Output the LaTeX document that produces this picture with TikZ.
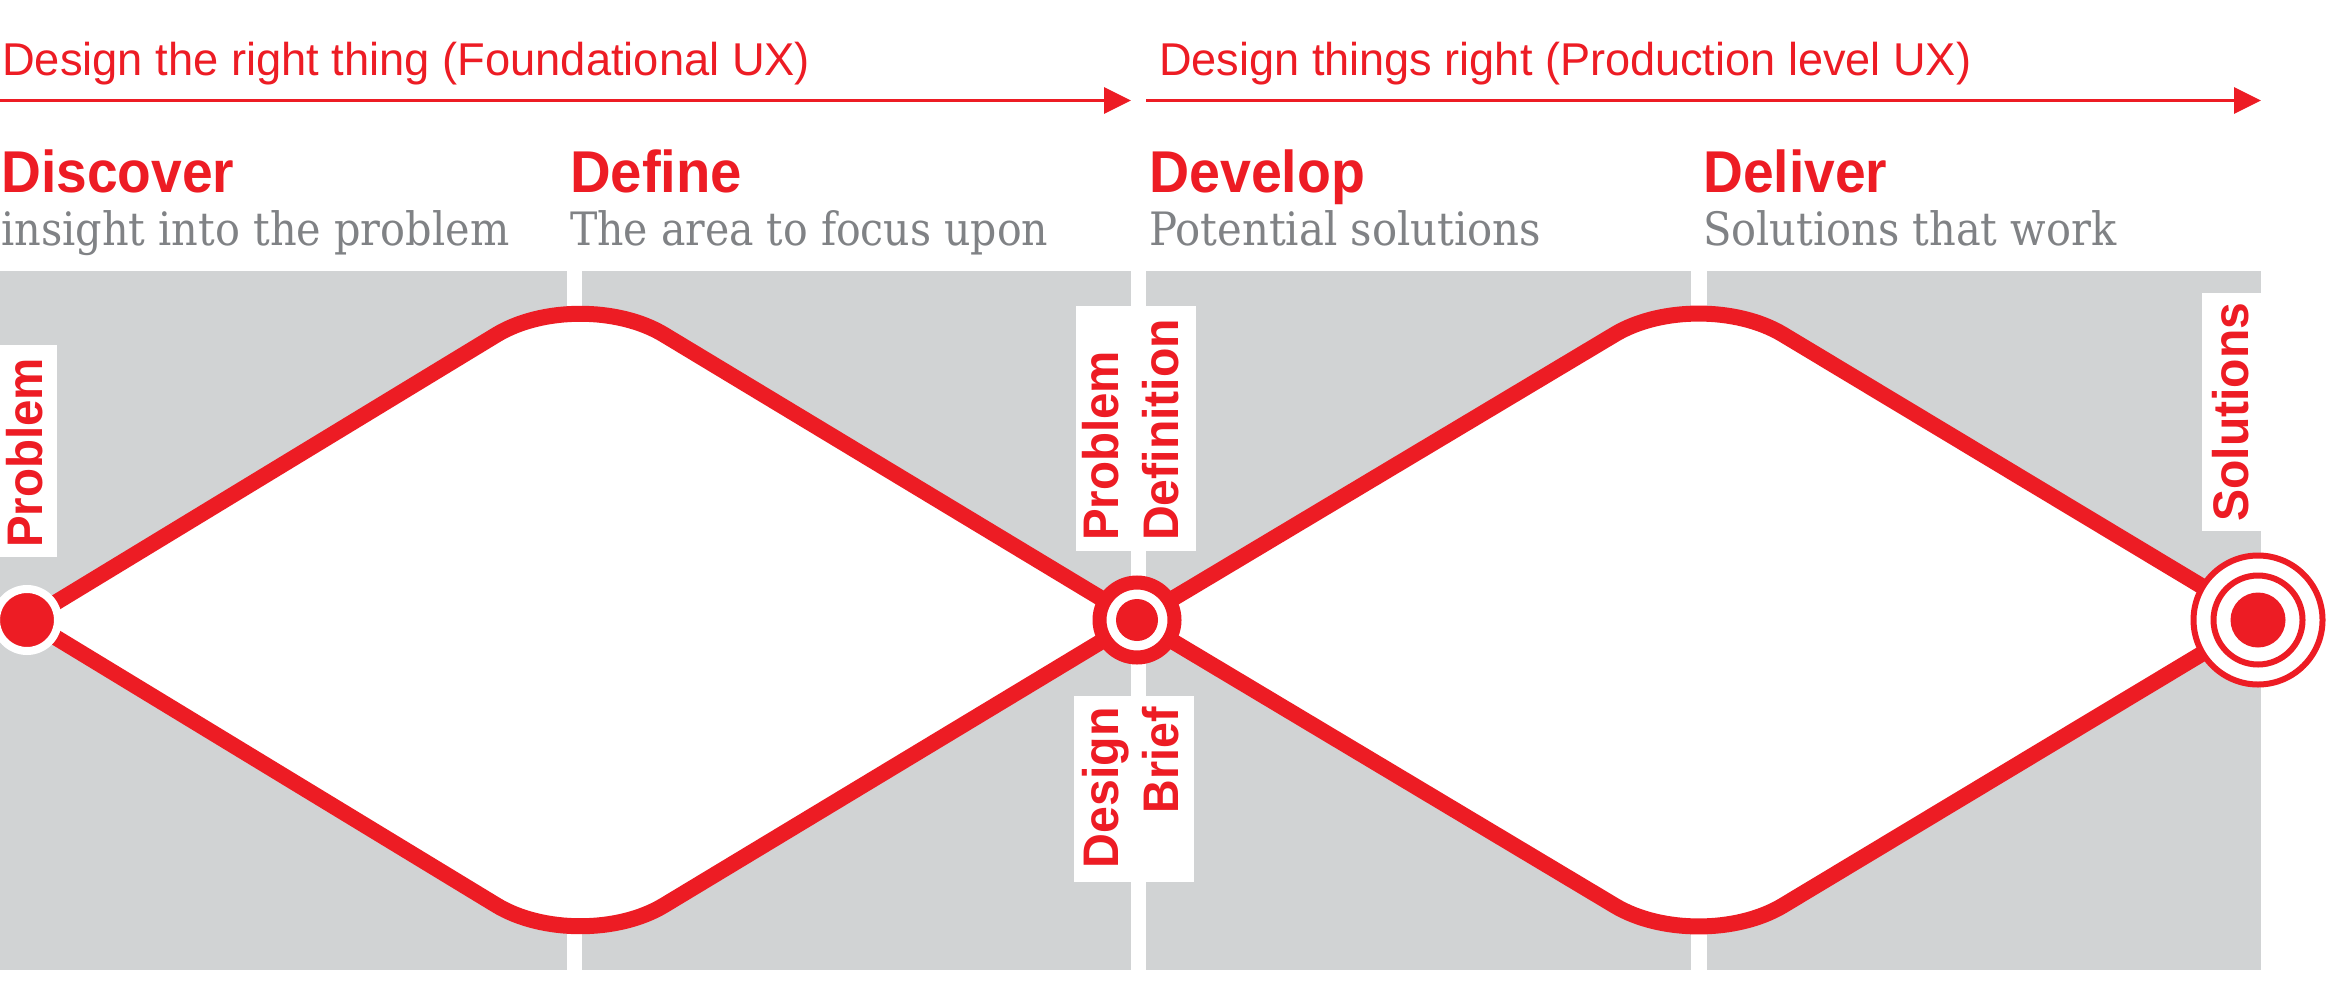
\documentclass[tikz,border=0pt]{standalone}
\usepackage{fontspec}
\setmainfont{Liberation Sans}
\newfontfamily\serifsub{DejaVu Serif Condensed}
\usetikzlibrary{arrows.meta,calc}
\definecolor{ddred}{HTML}{ED1C24}
\definecolor{panelgray}{HTML}{D1D3D4}
\definecolor{subgray}{HTML}{808285}
% set a text at a given width by scaling it horizontally
\newdimen\fitlen
\newcommand\fitto[2]{\settowidth\fitlen{#2}\pgfmathsetmacro\fitratio{#1/\fitlen}\scalebox{\fitratio}[1]{#2}}
\tikzset{
  hdtext/.style={font=\fontsize{46}{50}\selectfont, text=ddred, inner sep=0, anchor=base west},
  ttltext/.style={font=\fontsize{59}{64}\selectfont\bfseries, text=ddred, inner sep=0, anchor=base west},
  subtext/.style={font=\serifsub\fontsize{46}{50}\selectfont, text=subgray, inner sep=0, anchor=base west},
  labtext/.style={font=\fontsize{50}{55}\selectfont\bfseries, text=ddred, inner sep=0, rotate=90},
  labbox/.style={fill=white, draw=none, inner sep=0},
  panel/.style={fill=panelgray},
  flow/.style={draw=ddred, line width=16pt},
  phasearrow/.style={draw=ddred, line width=3.5pt, -{Triangle[length=27pt,width=26pt]}},
}
\begin{document}
\begin{tikzpicture}[x=1pt,y=-1pt]
\useasboundingbox (0,0) rectangle (2328,990);
\fill[white] (0,0) rectangle (2328,990);

% four phase panels
\fill[panel] (0,271) rectangle (567,970);
\fill[panel] (582,271) rectangle (1131,970);
\fill[panel] (1146,271) rectangle (1691,970);
\fill[panel] (1707,271) rectangle (2261,970);

% diamond vertices
\coordinate (p) at (27,620);
\coordinate (m) at (1137,620);
\coordinate (s) at (2258,620);
\coordinate (t1) at (580,284);
\coordinate (b1) at (580,956);
\coordinate (t2) at (1699,284);
\coordinate (b2) at (1699,956);

% rounded peaks: cut points and control points
\coordinate (t1l) at ($(t1)!98pt!(p)$);  \coordinate (t1lc) at ($(t1)!44pt!(p)$);
\coordinate (t1r) at ($(t1)!98pt!(m)$);  \coordinate (t1rc) at ($(t1)!44pt!(m)$);
\coordinate (b1l) at ($(b1)!98pt!(p)$);  \coordinate (b1lc) at ($(b1)!44pt!(p)$);
\coordinate (b1r) at ($(b1)!98pt!(m)$);  \coordinate (b1rc) at ($(b1)!44pt!(m)$);
\coordinate (t2l) at ($(t2)!98pt!(m)$);  \coordinate (t2lc) at ($(t2)!44pt!(m)$);
\coordinate (t2r) at ($(t2)!98pt!(s)$);  \coordinate (t2rc) at ($(t2)!44pt!(s)$);
\coordinate (b2l) at ($(b2)!98pt!(m)$);  \coordinate (b2lc) at ($(b2)!44pt!(m)$);
\coordinate (b2r) at ($(b2)!98pt!(s)$);  \coordinate (b2rc) at ($(b2)!44pt!(s)$);

% white diamond interiors
\fill[white] (p) -- (t1l) .. controls (t1lc) and (t1rc) .. (t1r) -- (m)
  -- (b1r) .. controls (b1rc) and (b1lc) .. (b1l) -- cycle;
\fill[white] (m) -- (t2l) .. controls (t2lc) and (t2rc) .. (t2r) -- (s)
  -- (b2r) .. controls (b2rc) and (b2lc) .. (b2l) -- cycle;

% diamond outlines
\draw[flow] (p) -- (t1l) .. controls (t1lc) and (t1rc) .. (t1r) -- (m);
\draw[flow] (p) -- (b1l) .. controls (b1lc) and (b1rc) .. (b1r) -- (m);
\draw[flow] (m) -- (t2l) .. controls (t2lc) and (t2rc) .. (t2r) -- (s);
\draw[flow] (m) -- (b2l) .. controls (b2lc) and (b2rc) .. (b2r) -- (s);

% milestone markers
\node[circle, fill=ddred, draw=white, line width=8pt, minimum size=62pt, inner sep=0] (pdot) at (p) {};
\node[circle, fill=white, draw=ddred, line width=14pt, minimum size=75pt, inner sep=0] (mring) at (m) {};
\node[circle, fill=ddred, minimum size=42pt, inner sep=0] (mcore) at (m) {};
\node[circle, fill=white, draw=ddred, line width=6pt, minimum size=129pt, inner sep=0] (souter) at (s) {};
\node[circle, draw=ddred, line width=6pt, minimum size=89pt, inner sep=0] (sring) at (s) {};
\node[circle, fill=ddred, minimum size=55pt, inner sep=0] (score) at (s) {};

% top phase arrows
\coordinate (a1s) at (0,100.5);
\coordinate (a1e) at (1131,100.5);
\coordinate (a2s) at (1146,100.5);
\coordinate (a2e) at (2261,100.5);
\draw[phasearrow] (a1s) -- (a1e);
\draw[phasearrow] (a2s) -- (a2e);

% headers
\node[hdtext] (hd1) at (2,75) {\fitto{808}{Design the right thing (Foundational UX)}};
\node[hdtext] (hd2) at (1159,75) {\fitto{812}{Design things right (Production level UX)}};

% phase titles
\node[ttltext] (discover) at (1,192) {\fitto{233}{Discover}};
\node[ttltext] (define) at (570,192) {\fitto{172}{Define}};
\node[ttltext] (develop) at (1149,192) {\fitto{216}{Develop}};
\node[ttltext] (deliver) at (1703,192) {\fitto{184}{Deliver}};

% phase descriptions
\node[subtext] (sub1) at (1,245) {\fitto{508}{insight into the problem}};
\node[subtext] (sub2) at (570,245) {\fitto{478}{The area to focus upon}};
\node[subtext] (sub3) at (1149,245) {\fitto{392}{Potential solutions}};
\node[subtext] (sub4) at (1703,245) {\fitto{413}{Solutions that work}};

% label plates
\node[labbox, minimum width=57pt, minimum height=212pt] (boxprob) at (28.5,451) {};
\node[labbox, minimum width=120pt, minimum height=245pt] (boxpd) at (1136,428.5) {};
\node[labbox, minimum width=120pt, minimum height=186pt] (boxdb) at (1134,789) {};
\node[labbox, minimum width=60pt, minimum height=238pt] (boxsol) at (2232,412) {};

% vertical labels
\node[labtext, anchor=base west] (lprob) at (42,548) {\fitto{190}{Problem}};
\node[labtext, anchor=base west] (lpd1) at (1118,541) {\fitto{190}{Problem}};
\node[labtext, anchor=base west] (lpd2) at (1178,541) {\fitto{222}{Definition}};
\node[labtext, anchor=base east] (ldb1) at (1118,707) {\fitto{161}{Design}};
\node[labtext, anchor=base east] (ldb2) at (1178,707) {\fitto{106}{Brief}};
\node[labtext, anchor=base west] (lsol) at (2248,522) {\fitto{219}{Solutions}};
\end{tikzpicture}
\end{document}
